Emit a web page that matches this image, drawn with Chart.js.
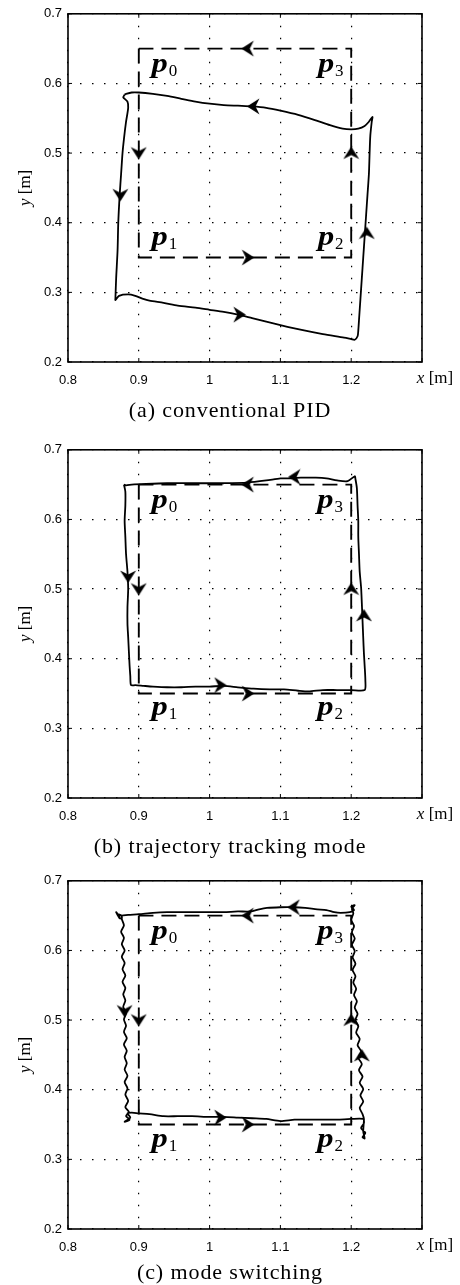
<!DOCTYPE html>
<html>
<head>
<meta charset="utf-8">
<script src="https://cdn.jsdelivr.net/npm/chart.js@4.4.0/dist/chart.umd.min.js"></script>
<style>
  html, body { margin: 0; padding: 0; background: #fff; }
  #page { position: relative; width: 460px; height: 1285px; overflow: hidden; }
  .panel { position: absolute; left: 0; width: 460px; height: 400px; }
  .caption { position: absolute; left: 0; width: 460px; text-align: center; color: #000;
             font-family: "Liberation Serif", serif; font-size: 22px; line-height: 20px; letter-spacing: 0.9px; }
</style>
</head>
<body>
<div id="page">
  <div class="panel" style="top:0px"><canvas id="chartA" width="460" height="400"></canvas></div>
  <div class="caption" style="top:400px">(a) conventional PID</div>
  <div class="panel" style="top:436px"><canvas id="chartB" width="460" height="400"></canvas></div>
  <div class="caption" style="top:836px">(b) trajectory tracking mode</div>
  <div class="panel" style="top:867px"><canvas id="chartC" width="460" height="400"></canvas></div>
  <div class="caption" style="top:1262px">(c) mode switching</div>
</div>
<script>
// axes
const xTickLabels = ['0.8', '0.9', '1', '1.1', '1.2', ''];
const yTickLabels = ['0.2', '0.3', '0.4', '0.5', '0.6', '0.7'];

// desired path p0 -> p1 -> p2 -> p3 -> p0
const refX = [0.9, 0.9, 1.2, 1.2, 0.9];
const refY = [0.65, 0.35, 0.35, 0.65, 0.65];
const refArrowX = [1.054, 0.9, 1.054, 1.2];
const refArrowY = [0.65, 0.5, 0.35, 0.5];
const refArrowDir = [270, 180, 90, 0];

// (a) conventional PID
const pidX = [0.880, 0.878, 0.884, 0.885, 0.882, 0.879, 0.877, 0.875, 0.873, 0.871, 0.870, 0.868, 0.867,
  0.867, 0.872, 0.885, 0.895, 0.905, 0.915, 0.935, 0.955, 0.980, 1.000, 1.020, 1.040, 1.060, 1.080, 1.100,
  1.130, 1.160, 1.190, 1.200, 1.205, 1.209,
  1.210, 1.211, 1.213, 1.215, 1.217, 1.219, 1.221, 1.223, 1.225, 1.226, 1.227, 1.229, 1.230,
  1.225, 1.219, 1.210, 1.200, 1.188, 1.170, 1.150, 1.125, 1.100, 1.080, 1.060, 1.040, 1.020, 1.000,
  0.980, 0.960, 0.940, 0.920, 0.900, 0.890, 0.882, 0.880];
const pidY = [0.584, 0.580, 0.574, 0.565, 0.545, 0.520, 0.500, 0.470, 0.440, 0.400, 0.360, 0.320, 0.292,
  0.289, 0.295, 0.297, 0.295, 0.291, 0.288, 0.285, 0.281, 0.278, 0.275, 0.272, 0.268, 0.263, 0.258, 0.253,
  0.246, 0.240, 0.235, 0.233, 0.232, 0.237,
  0.245, 0.260, 0.290, 0.320, 0.350, 0.380, 0.410, 0.440, 0.470, 0.500, 0.525, 0.545, 0.552,
  0.545, 0.539, 0.535, 0.534, 0.535, 0.540, 0.547, 0.555, 0.561, 0.565, 0.567, 0.568, 0.569, 0.571,
  0.574, 0.578, 0.582, 0.585, 0.587, 0.587, 0.585, 0.584];
const pidArrowX = [0.874, 1.042, 1.222, 1.062];
const pidArrowY = [0.440, 0.268, 0.385, 0.567];
const pidArrowDir = [180, 90, 0, 270];
const pidLabelX = [0.918, 0.918, 1.153, 1.153];
const pidLabelY = [0.616, 0.368, 0.368, 0.616];

// (b) trajectory tracking mode
const trackX = [0.879, 0.881, 0.881, 0.880, 0.881, 0.882, 0.884, 0.885, 0.884, 0.884, 0.885, 0.886, 0.887, 0.888, 0.889,
  0.895, 0.907, 0.920, 0.940, 0.960, 0.980, 1.000, 1.020, 1.040, 1.062, 1.085, 1.105, 1.125, 1.140, 1.160, 1.180, 1.200, 1.219,
  1.220, 1.219, 1.218, 1.217, 1.216, 1.215, 1.214, 1.212, 1.211, 1.210, 1.210, 1.209, 1.208, 1.206, 1.205,
  1.195, 1.180, 1.165, 1.150, 1.129, 1.110, 1.100, 1.080, 1.053, 1.020, 1.000, 0.970, 0.940, 0.910, 0.890, 0.882, 0.879];
const trackY = [0.650, 0.640, 0.620, 0.598, 0.575, 0.550, 0.525, 0.500, 0.474, 0.450, 0.431, 0.410, 0.390, 0.375, 0.362,
  0.362, 0.361, 0.360, 0.359, 0.359, 0.360, 0.360, 0.361, 0.359, 0.357, 0.356, 0.356, 0.354, 0.353, 0.355, 0.355, 0.355, 0.355,
  0.369, 0.390, 0.407, 0.430, 0.455, 0.480, 0.502, 0.525, 0.550, 0.575, 0.598, 0.620, 0.645, 0.658, 0.662,
  0.655, 0.656, 0.659, 0.660, 0.660, 0.659, 0.659, 0.656, 0.653, 0.652, 0.652, 0.652, 0.652, 0.651, 0.650, 0.649, 0.650];
const trackArrowX = [0.885, 1.015, 1.218, 1.120];
const trackArrowY = [0.518, 0.362, 0.462, 0.661];
const trackArrowDir = [180, 90, 0, 270];
const trackLabelX = [0.918, 0.918, 1.152, 1.152];
const trackLabelY = [0.616, 0.319, 0.319, 0.616];

// (c) mode switching
const switchX = [0.871, 0.868, 0.873, 0.870, 0.876,
  0.876, 0.879, 0.875, 0.879, 0.876, 0.880, 0.876, 0.880, 0.877, 0.881, 0.877, 0.881, 0.878, 0.881, 0.878, 0.882,
  0.879, 0.882, 0.879, 0.883, 0.879, 0.883, 0.880, 0.883, 0.880, 0.884, 0.880, 0.884, 0.881, 0.885, 0.881, 0.886,
  0.882, 0.887, 0.880, 0.888, 0.884, 0.890,
  0.900, 0.915, 0.935, 0.955, 0.975, 1.000, 1.020, 1.040, 1.060, 1.080, 1.100, 1.120, 1.140, 1.160, 1.180, 1.200, 1.217,
  1.218, 1.214, 1.220, 1.216, 1.219, 1.217, 1.218,
  1.216, 1.212, 1.217, 1.213, 1.217, 1.212, 1.216, 1.211, 1.215, 1.210, 1.214, 1.209, 1.212, 1.207, 1.210, 1.206,
  1.209, 1.205, 1.208, 1.204, 1.207, 1.203, 1.206, 1.202, 1.206, 1.202, 1.205, 1.201, 1.205, 1.201, 1.204, 1.200, 1.203,
  1.201, 1.205, 1.200, 1.204, 1.198,
  1.185, 1.176, 1.165, 1.152, 1.135, 1.119, 1.100, 1.081, 1.070, 1.058, 1.040, 1.020, 1.000, 0.970, 0.940, 0.920,
  0.900, 0.885, 0.876, 0.871, 0.868, 0.873, 0.876];
const switchY = [0.651, 0.655, 0.646, 0.652, 0.650,
  0.645, 0.636, 0.627, 0.618, 0.609, 0.600, 0.591, 0.582, 0.573, 0.564, 0.555, 0.546, 0.537, 0.528, 0.519, 0.510,
  0.501, 0.492, 0.483, 0.474, 0.465, 0.456, 0.447, 0.438, 0.429, 0.420, 0.411, 0.402, 0.393, 0.384, 0.375, 0.368,
  0.362, 0.357, 0.354, 0.360, 0.366, 0.367,
  0.366, 0.365, 0.362, 0.362, 0.362, 0.361, 0.361, 0.360, 0.359, 0.358, 0.355, 0.357, 0.357, 0.357, 0.357, 0.358, 0.358,
  0.352, 0.345, 0.338, 0.332, 0.330, 0.340, 0.358,
  0.365, 0.374, 0.383, 0.392, 0.401, 0.410, 0.419, 0.428, 0.437, 0.446, 0.455, 0.464, 0.473, 0.482, 0.491, 0.500,
  0.509, 0.518, 0.527, 0.536, 0.545, 0.554, 0.563, 0.572, 0.581, 0.590, 0.599, 0.608, 0.617, 0.626, 0.635, 0.644, 0.653,
  0.660, 0.665, 0.663, 0.658, 0.655,
  0.654, 0.655, 0.658, 0.659, 0.661, 0.662, 0.662, 0.661, 0.659, 0.656, 0.656, 0.655, 0.655, 0.655, 0.655, 0.654,
  0.652, 0.651, 0.650, 0.651, 0.655, 0.647, 0.645];
const switchArrowX = [0.880, 1.015, 1.215, 1.119];
const switchArrowY = [0.513, 0.360, 0.449, 0.662];
const switchArrowDir = [180, 90, 0, 270];
const switchLabelX = [0.918, 0.918, 1.152, 1.152];
const switchLabelY = [0.616, 0.318, 0.318, 0.616];

const pointSubs = ['0', '1', '2', '3'];

const toPts = (xs, ys) => xs.map((x, i) => ({ x: x, y: ys[i] }));

// barbed arrowhead, drawn pointing up; chart.js rotates it
const arrowHead = document.createElement('canvas');
arrowHead.width = 17; arrowHead.height = 17;
(function () {
  const c = arrowHead.getContext('2d');
  c.fillStyle = '#000';
  c.beginPath();
  c.moveTo(8.5, 2);
  c.lineTo(16.5, 14.5);
  c.lineTo(8.5, 10.5);
  c.lineTo(0.5, 14.5);
  c.closePath();
  c.fill();
})();

const framePlugin = {
  id: 'frame',
  afterDraw(chart, args, opts) {
    const ctx = chart.ctx, a = chart.chartArea;
    const xs = chart.scales.x, ys = chart.scales.y;
    ctx.save();
    ctx.strokeStyle = '#000';
    ctx.lineWidth = 1.6;
    ctx.strokeRect(a.left, a.top, a.right - a.left, a.bottom - a.top);
    // small inward ticks
    ctx.lineWidth = 1;
    ctx.beginPath();
    xs.ticks.forEach(t => {
      const px = xs.getPixelForValue(t.value);
      ctx.moveTo(px, a.bottom); ctx.lineTo(px, a.bottom - 4);
      ctx.moveTo(px, a.top); ctx.lineTo(px, a.top + 4);
    });
    ys.ticks.forEach(t => {
      const py = ys.getPixelForValue(t.value);
      ctx.moveTo(a.left, py); ctx.lineTo(a.left + 4, py);
      ctx.moveTo(a.right, py); ctx.lineTo(a.right - 4, py);
    });
    ctx.stroke();

    // point names
    ctx.fillStyle = '#000';
    ctx.textBaseline = 'alphabetic';
    ctx.textAlign = 'left';
    opts.labelX.forEach((xv, i) => {
      const px = xs.getPixelForValue(xv), py = ys.getPixelForValue(opts.labelY[i]);
      ctx.font = 'italic bold 27px "Liberation Serif"';
      const w = ctx.measureText('p').width * 1.2;
      ctx.save();
      ctx.translate(px, py);
      ctx.scale(1.2, 1);
      ctx.fillText('p', 0, 0);
      ctx.restore();
      ctx.font = '17px "Liberation Serif"';
      ctx.fillText(pointSubs[i], px + w + 1, py + 4);
    });

    // axis names
    const mid = (a.top + a.bottom) / 2;
    ctx.textBaseline = 'middle';
    ctx.font = 'italic 17px "Liberation Serif"';
    const wy = ctx.measureText('y').width;
    ctx.font = '17px "Liberation Serif"';
    const wm = ctx.measureText(' [m]').width;
    ctx.save();
    ctx.translate(26, mid);
    ctx.rotate(-Math.PI / 2);
    ctx.font = 'italic 17px "Liberation Serif"';
    ctx.fillText('y', -(wy + wm) / 2, 0);
    ctx.font = '17px "Liberation Serif"';
    ctx.fillText(' [m]', -(wy + wm) / 2 + wy, 0);
    ctx.restore();

    ctx.font = 'italic 17px "Liberation Serif"';
    const wx = ctx.measureText('x').width;
    const left = 435 - (wx + wm) / 2;
    const ty = a.bottom + 17;
    ctx.fillText('x', left, ty);
    ctx.font = '17px "Liberation Serif"';
    ctx.fillText(' [m]', left + wx, ty);
    ctx.restore();
  }
};

const tickFont = { family: '"Liberation Sans", Arial, sans-serif', size: 13 };

function makePanel(id, tx, ty, ax, ay, adir, lx, ly) {
  const arrowPts = toPts(refArrowX, refArrowY).concat(toPts(ax, ay));
  const arrowRot = refArrowDir.concat(adir);
  new Chart(document.getElementById(id), {
    type: 'scatter',
    data: {
      datasets: [
        {
          data: arrowPts,
          showLine: false,
          pointStyle: arrowHead,
          pointRadius: 8,
          pointRotation: ctx => arrowRot[ctx.dataIndex]
        },
        {
          data: toPts(tx, ty),
          showLine: true,
          borderColor: '#000',
          borderWidth: 1.8,
          pointRadius: 0,
          tension: 0.25
        },
        {
          data: toPts(refX, refY),
          showLine: true,
          borderColor: '#000',
          borderWidth: 1.9,
          borderDash: [15, 8],
          pointRadius: 0,
          tension: 0
        }
      ]
    },
    options: {
      responsive: false,
      animation: false,
      events: [],
      layout: { padding: { top: 12, right: 38, left: 0, bottom: 0 } },
      plugins: {
        legend: { display: false },
        tooltip: { enabled: false },
        frame: { labelX: lx, labelY: ly }
      },
      scales: {
        x: {
          type: 'linear', min: 0.8, max: 1.3,
          afterFit: s => { s.height = 38; },
          ticks: { stepSize: 0.1, padding: 11, color: '#000', font: tickFont, maxRotation: 0,
                   callback: (v, i) => xTickLabels[i] },
          grid: { color: '#000', lineWidth: 1.2, drawTicks: false },
          border: { display: false, dash: [1.5, 10.5] }
        },
        y: {
          type: 'linear', min: 0.2, max: 0.7,
          afterFit: s => { s.width = 68; },
          ticks: { stepSize: 0.1, padding: 6, color: '#000', font: tickFont,
                   callback: (v, i) => yTickLabels[i] },
          grid: { color: '#000', lineWidth: 1.2, drawTicks: false },
          border: { display: false, dash: [1.5, 10.5] }
        }
      }
    },
    plugins: [framePlugin]
  });
}

makePanel('chartA', pidX, pidY, pidArrowX, pidArrowY, pidArrowDir, pidLabelX, pidLabelY);
makePanel('chartB', trackX, trackY, trackArrowX, trackArrowY, trackArrowDir, trackLabelX, trackLabelY);
makePanel('chartC', switchX, switchY, switchArrowX, switchArrowY, switchArrowDir, switchLabelX, switchLabelY);
</script>
</body>
</html>
